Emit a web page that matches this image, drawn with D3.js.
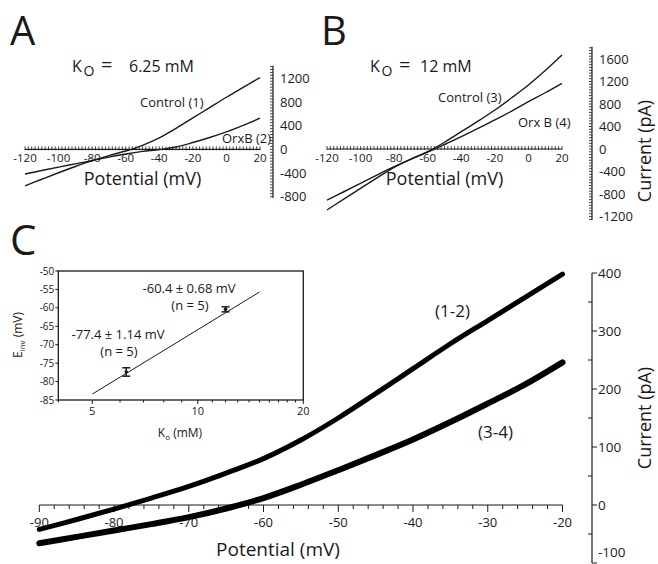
<!DOCTYPE html>
<html><head><meta charset="utf-8">
<script src="https://cdn.jsdelivr.net/npm/d3@7/dist/d3.min.js"></script>
<style>
html,body{margin:0;padding:0;background:#fff;}
svg{display:block;font-family:"Open Sans",sans-serif;}
</style></head>
<body>
<svg id="fig" width="658" height="564"></svg>
<script>
// ---------------- DATA ----------------
const potentialAB = [-120,-110,-100,-90,-80,-70,-60,-50,-40,-30,-20,-10,0,10,20];
const controlA = [-617,-505,-395,-290,-192,-105,-28,68,195,355,530,705,880,1048,1212];
const orxA     = [-417,-358,-300,-245,-190,-132,-78,-35,-5,40,115,200,295,405,526];
const controlB = [-1084,-890,-699,-510,-326,-180,-48,120,308,495,693,910,1138,1395,1671];
const orxB     = [-907,-760,-610,-460,-315,-180,-55,80,219,365,516,675,841,1000,1168];

const potentialC = [-90,-85,-80,-75,-70,-65,-60,-55,-50,-45,-40,-35,-30,-25,-20];
const diff12 = [-42,-25,-7,12,32,55,80,112,150,192,235,278,318,358,398];
const diff34 = [-66,-55,-44,-33,-21,-6,12,35,60,86,113,143,175,208,246];

const xTicksAB = [-120,-100,-80,-60,-40,-20,0,20];
const yTicksA = [1200,800,400,0,-400,-800];
const yTicksB = [1600,1200,800,400,0,-400,-800,-1200];
const xTicksC = [-90,-80,-70,-60,-50,-40,-30,-20];
const yTicksC = [400,300,200,100,0,-100];

const insetK = [6.25, 12];
const insetE = [-77.4, -60.4];
const insetErr = [1.14, 0.68];
const insetFitK = [5, 15];
const insetFitE = [-83.4, -55.7];
const insetYTicks = [-50,-55,-60,-65,-70,-75,-80,-85];
const insetXTicks = [5,10,20];

// ---------------- DRAW ----------------
const svg = d3.select("#fig");
const ink = "#1a1a1a";

function txt(x,y,s,size,anchor){
  return svg.append("text").attr("x",x).attr("y",y).attr("font-size",size)
    .attr("text-anchor",anchor||"start").attr("fill",ink).text(s);
}

txt(10,45,"A",40);
txt(321,45,"B",40);
txt(10,255,"C",42);

function smallPanel(opt){
  const x = d3.scaleLinear().domain([-120,20]).range(opt.xr);
  const y = d3.scaleLinear().domain(opt.yd).range(opt.yr);
  const g = svg.append("g");
  g.append("line").attr("x1",x(-120)).attr("x2",x(20)).attr("y1",y(0)).attr("y2",y(0))
    .attr("stroke",ink).attr("stroke-width",1.2);
  d3.range(-120,20.1,2).forEach(v=>{
    g.append("line").attr("x1",x(v)).attr("x2",x(v)).attr("y1",y(0)-3).attr("y2",y(0)+1)
      .attr("stroke",ink).attr("stroke-width",0.8);
  });
  xTicksAB.forEach(v=>{
    g.append("text").attr("x",x(v)).attr("y",y(0)+13).attr("font-size",11.5)
      .attr("text-anchor","middle").attr("fill",ink).text(v);
  });
  const ax = opt.yAxisX;
  g.append("line").attr("x1",ax).attr("x2",ax).attr("y1",y(opt.yExt[0])).attr("y2",y(opt.yExt[1]))
    .attr("stroke",ink).attr("stroke-width",1.2);
  d3.range(Math.ceil(opt.yExt[0]/50)*50, opt.yExt[1]+0.1, 50).forEach(v=>{
    g.append("line").attr("x1",ax-3).attr("x2",ax).attr("y1",y(v)).attr("y2",y(v))
      .attr("stroke",ink).attr("stroke-width",0.8);
  });
  opt.yTicks.forEach(v=>{
    g.append("text").attr("x",ax+7).attr("y",y(v)).attr("dy","0.36em").attr("font-size",13)
      .attr("fill",ink).text(v);
  });
  const line = d3.line().x((d,i)=>x(potentialAB[i])).y(d=>y(d)).curve(d3.curveCatmullRom);
  opt.series.forEach(s=>{
    g.append("path").attr("d",line(s)).attr("fill","none").attr("stroke",ink).attr("stroke-width",1.4);
  });
  const tx = opt.titleX;
  g.append("text").attr("x",tx).attr("y",72).attr("font-size",16).attr("fill",ink).text("K");
  g.append("text").attr("x",tx+11.5).attr("y",76).attr("font-size",14).attr("fill",ink).text("O");
  g.append("text").attr("x",tx+29).attr("y",72).attr("font-size",20).attr("fill",ink).text("=");
  g.append("text").attr("x",tx+opt.valDx).attr("y",72).attr("font-size",16).attr("fill",ink).text(opt.title);
  g.append("text").attr("x",(x(-120)+x(20))/2).attr("y",185).attr("font-size",18)
    .attr("text-anchor","middle").attr("fill",ink).text("Potential (mV)");
  opt.labels.forEach(l=>txt(l[0],l[1],l[2],13));
}

smallPanel({
  xr:[25,260], yd:[-800,1200], yr:[196.7,78.3], yAxisX:273, yExt:[-820,1410],
  yTicks:yTicksA, series:[controlA, orxA], titleX:72, valDx:57, title:"6.25 mM",
  labels:[[140,107,"Control (1)"],[222,143,"OrxB (2)"]]
});
smallPanel({
  xr:[327,562], yd:[-1200,1600], yr:[216.5,59], yAxisX:592, yExt:[-1260,1820],
  yTicks:yTicksB, series:[controlB, orxB], titleX:370, valDx:50, title:"12 mM",
  labels:[[438,102,"Control (3)"],[518,127,"Orx B (4)"]]
});
svg.append("text").attr("transform","translate(651,151) rotate(-90)").attr("font-size",18)
  .attr("text-anchor","middle").attr("fill",ink).text("Current (pA)");

// ---- main panel C ----
const xC = d3.scaleLinear().domain([-90,-20]).range([39.3,562.5]);
const yC = d3.scaleLinear().domain([-100,400]).range([563,273]);
const gC = svg.append("g");
gC.append("line").attr("x1",xC(-90)).attr("x2",xC(-20)).attr("y1",yC(0)).attr("y2",yC(0))
  .attr("stroke",ink).attr("stroke-width",1.2);
d3.range(-90,-19.9,2).forEach(v=>{
  const major = xTicksC.includes(v);
  gC.append("line").attr("x1",xC(v)).attr("x2",xC(v)).attr("y1",yC(0)).attr("y2",yC(0)+(major?7:4))
    .attr("stroke",ink).attr("stroke-width",1);
});
xTicksC.forEach(v=>{
  gC.append("text").attr("x",xC(v)).attr("y",yC(0)+22).attr("font-size",13)
    .attr("text-anchor","middle").attr("fill",ink).text(v);
});
const axC = 592;
gC.append("line").attr("x1",axC).attr("x2",axC).attr("y1",yC(-100)).attr("y2",yC(400))
  .attr("stroke",ink).attr("stroke-width",1.2);
d3.range(-100,400.1,50).forEach(v=>{
  const major = v%100===0;
  gC.append("line").attr("x1",axC).attr("x2",axC+(major?5:-4)).attr("y1",yC(v)).attr("y2",yC(v))
    .attr("stroke",ink).attr("stroke-width",1);
});
yTicksC.forEach(v=>{
  const t = gC.append("text").attr("x",axC+6).attr("y",yC(v)).attr("dy","0.36em").attr("font-size",13.5)
    .attr("fill",ink).text(v);
  if (v===-100) t.attr("y",yC(v)-6).attr("dy",0);
});
svg.append("text").attr("transform","translate(651,418) rotate(-90)").attr("font-size",18)
  .attr("text-anchor","middle").attr("fill",ink).text("Current (pA)");
gC.append("text").attr("x",278).attr("y",556).attr("font-size",19)
  .attr("text-anchor","middle").attr("fill",ink).text("Potential (mV)");

const lineC = d3.line().x((d,i)=>xC(potentialC[i])).y(d=>yC(d)).curve(d3.curveCatmullRom);
gC.append("path").attr("d",lineC(diff12)).attr("fill","none").attr("stroke","#000")
  .attr("stroke-width",5).attr("stroke-linecap","round");
gC.append("path").attr("d",lineC(diff34)).attr("fill","none").attr("stroke","#000")
  .attr("stroke-width",6).attr("stroke-linecap","round");
txt(435,317,"(1-2)",17);
txt(478,438,"(3-4)",17);

// ---- inset ----
const xI = d3.scaleLog().domain([4,20]).range([58.3,303.3]);
const yI = d3.scaleLinear().domain([-85,-50]).range([400,271]);
const gI = svg.append("g");
gI.append("rect").attr("x",xI(4)).attr("y",yI(-50)).attr("width",xI(20)-xI(4)).attr("height",yI(-85)-yI(-50))
  .attr("fill","none").attr("stroke",ink).attr("stroke-width",1.3);
insetYTicks.forEach(v=>{
  gI.append("line").attr("x1",xI(4)-3).attr("x2",xI(4)).attr("y1",yI(v)).attr("y2",yI(v)).attr("stroke",ink);
  gI.append("text").attr("x",xI(4)-4).attr("y",yI(v)).attr("dy","0.36em").attr("font-size",10)
    .attr("text-anchor","end").attr("fill",ink).text(v);
});
[4,5,6,7,8,9,10,11,12,13,14,15,16,17,18,19,20].forEach(v=>{
  const major = insetXTicks.includes(v);
  gI.append("line").attr("x1",xI(v)).attr("x2",xI(v)).attr("y1",yI(-85)).attr("y2",yI(-85)+(major?4:2.5)).attr("stroke",ink);
});
insetXTicks.forEach(v=>{
  gI.append("text").attr("x",xI(v)).attr("y",yI(-85)+15).attr("font-size",11)
    .attr("text-anchor","middle").attr("fill",ink).text(v);
});
const ko = gI.append("text").attr("x",180).attr("y",437).attr("font-size",12).attr("text-anchor","middle").attr("fill",ink);
ko.append("tspan").text("K");
ko.append("tspan").attr("font-size",8).attr("dy",3).text("o");
ko.append("tspan").attr("dy",-3).text(" (mM)");
const el = gI.append("text").attr("transform","translate(22,335) rotate(-90)").attr("font-size",12)
  .attr("text-anchor","middle").attr("fill",ink);
el.append("tspan").text("E");
el.append("tspan").attr("font-size",8).attr("dy",3).text("inv");
el.append("tspan").attr("dy",-3).text(" (mV)");

const fitLine = d3.line().x((d,i)=>xI(insetFitK[i])).y(d=>yI(d));
gI.append("path").attr("d",fitLine(insetFitE)).attr("fill","none").attr("stroke",ink).attr("stroke-width",1);
insetK.forEach((k,i)=>{
  const cx = xI(k), e = insetE[i], er = insetErr[i];
  gI.append("line").attr("x1",cx).attr("x2",cx).attr("y1",yI(e-er)).attr("y2",yI(e+er)).attr("stroke",ink).attr("stroke-width",1.5);
  [e-er,e+er].forEach(v=>gI.append("line").attr("x1",cx-4).attr("x2",cx+4).attr("y1",yI(v)).attr("y2",yI(v)).attr("stroke",ink).attr("stroke-width",1.5));
  gI.append("circle").attr("cx",cx).attr("cy",yI(e)).attr("r",1.8).attr("fill",ink);
});
txt(189,293,"-60.4 ± 0.68 mV",13,"middle");
txt(190,310,"(n = 5)",13,"middle");
txt(118,339,"-77.4 ± 1.14 mV",13,"middle");
txt(119,356,"(n = 5)",13,"middle");
</script>
</body></html>
